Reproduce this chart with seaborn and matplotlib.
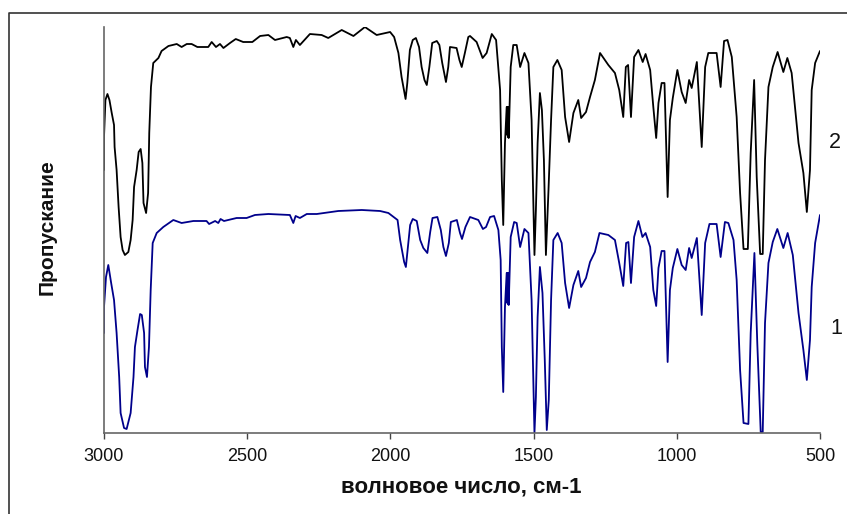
import matplotlib
matplotlib.use("Agg")
import matplotlib.pyplot as plt
import seaborn as sns
from matplotlib.lines import Line2D

wn_top = [3000,3000,2995,2988,2981,2973,2965,2963,2956,2949,2942,2935,2927,2915,2907,2900,2895,2886,2879,2872,2866,2862,2853,2846,2842,2836,2828,2810,2799,2775,2746,2729,2711,2694,2674,2636,2624,2609,2595,2583,2560,2540,2514,2482,2455,2426,2403,2362,2351,2339,2330,2316,2281,2240,2217,2170,2129,2089,2048,
          2001,1987,1972,1961,1947,1941,1932,1922,1911,1900,1891,1881,1873,1864,1854,1838,1829,1819,1806,1798,1792,1769,1759,1751,1740,1728,
          1722,1699,1678,1664,1646,1631,1617,1611,1606,1600,1594,1592,1591,1589,1588,1587,1580,1571,1559,1547,1532,1518,1507,1497,1492,1486,1478,1471,1464,1457,1448,1439,1431,1417,1402,1390,1376,1361,1344,1334,1317,1303,1286,1268,1239,1216,1201,1187,1178,1170,1160,1149,1134,1119,1109,1093,1082,1072,1064,1053,1043,1032,1024,1014,998,983,969,957,948,930,913,901,890,861,847,835,823,808,791,779,767,752,742,730,721,709,700,692,680,665,648,628,614,599,575,558,546,535,529,517,500]
trans_top = [263,296,333,339,333,320,308,286,263,226,196,183,178,181,193,213,246,263,281,284,270,230,220,240,300,346,370,375,382,387,389,386,389,389,386,386,391,386,389,385,390,394,391,391,397,398,393,396,395,386,393,388,399,398,395,403,397,406,398,
             401,396,380,356,334,350,383,393,395,386,366,353,348,366,390,392,388,370,351,366,386,385,373,366,380,396,
             397,391,375,380,399,393,343,253,208,290,326,298,326,296,326,295,366,388,388,366,380,370,313,178,223,290,340,323,273,178,243,313,366,373,363,316,291,320,333,315,321,336,353,380,368,360,343,316,366,368,316,376,383,371,379,363,326,295,330,350,350,236,313,335,363,341,330,353,345,371,286,366,380,380,346,392,393,376,316,240,184,184,280,353,256,179,179,273,346,366,381,361,375,360,290,260,221,263,343,370,382]

wn_bottom = [3000,3000,2993,2985,2975,2965,2956,2947,2942,2930,2921,2907,2897,2892,2883,2874,2868,2860,2857,2850,2843,2837,2830,2816,2793,2758,2729,2688,2642,2633,2612,2601,2593,2581,2537,2502,2473,2426,2351,2339,2331,2316,2292,2257,2182,2100,2036,
             2007,1975,1966,1952,1946,1941,1931,1922,1908,1896,1885,1871,1861,1853,1836,1824,1815,1806,1796,1789,1768,1757,1750,1738,1722,1693,1677,1666,1652,1638,1623,1615,
             1611,1606,1600,1594,1592,1591,1589,1588,1587,1580,1568,1559,1547,1532,1518,1507,1497,1492,1486,1478,1469,1461,1454,1447,1439,1431,1416,1402,1390,1376,1361,1344,1334,1317,1303,1286,1270,1239,1216,1201,1187,1177,1169,1160,1149,1134,1120,1109,1093,1082,1072,1064,1053,1043,1032,1024,1014,998,983,969,957,948,930,913,901,886,861,847,832,820,802,791,779,767,750,742,729,719,707,700,692,680,665,649,628,613,595,575,558,546,535,529,517,500]
trans_bottom = [100,126,156,168,150,133,100,56,20,5,4,20,56,86,103,119,118,100,66,56,86,143,190,200,206,213,210,212,212,209,212,210,214,212,215,215,218,219,218,210,217,215,219,219,222,223,222,
                220,213,193,171,166,180,208,214,212,193,185,180,201,215,216,203,186,177,190,211,213,200,194,206,216,213,204,206,216,217,203,173,
                86,41,126,160,130,160,129,160,128,196,211,210,186,204,200,133,0,36,116,166,140,73,3,33,133,193,200,190,150,125,148,162,146,155,171,181,200,198,193,170,147,190,191,150,196,212,196,200,186,143,127,165,182,182,71,143,165,184,168,163,185,175,195,118,190,209,209,176,211,210,193,153,63,10,9,100,180,90,1,1,110,170,191,204,185,200,178,120,83,53,93,146,190,218]

x_ticks = [3000, 2500, 2000, 1500, 1000, 500]
x_label = "волновое число, см-1"
y_label = "Пропускание"
curve_labels = ["2", "1"]

sns.set_style("white")
plt.rcParams["font.family"] = ["Liberation Sans", "DejaVu Sans"]

W, H = 847, 514
fig = plt.figure(figsize=(W / 100, H / 100), dpi=100, facecolor="white")
ax = fig.add_axes([104 / W, (H - 433) / H, (820 - 104) / W, (433 - 27) / H])

sns.lineplot(x=wn_bottom, y=trans_bottom, sort=False, estimator=None, color="#00008B", lw=1.3, ax=ax)
sns.lineplot(x=wn_top, y=trans_top, sort=False, estimator=None, color="black", lw=1.3, ax=ax)

ax.set_xlim(3000, 500)
ax.set_ylim(0, 406)
ax.set_xticks(x_ticks)
ax.set_yticks([])
for s in ["top", "right"]:
    ax.spines[s].set_visible(False)
for s in ["left", "bottom"]:
    ax.spines[s].set_color("#666666")
    ax.spines[s].set_linewidth(1.2)
ax.tick_params(axis="x", bottom=True, length=4, width=1, color="#444444", labelsize=13, pad=7, labelcolor="#111111")

fig.text(461 / W, 1 - 487 / H, x_label, ha="center", va="center", fontsize=16, fontweight="bold", color="#111111")
fig.text(47 / W, 1 - 227 / H, y_label, rotation=90, ha="center", va="center",
         fontsize=15, fontweight="bold", color="#111111")
fig.text(835 / W, 1 - 142 / H, curve_labels[0], ha="center", va="center", fontsize=15.5, color="#111111")
fig.text(836 / W, 1 - 328 / H, curve_labels[1], ha="center", va="center", fontsize=15.5, color="#111111")

fig.add_artist(Line2D([9 / W, 9 / W, 1], [0, 1 - 13 / H, 1 - 13 / H], transform=fig.transFigure,
                      color="#333333", lw=1.2))
fig.savefig("out.png", dpi=100)
